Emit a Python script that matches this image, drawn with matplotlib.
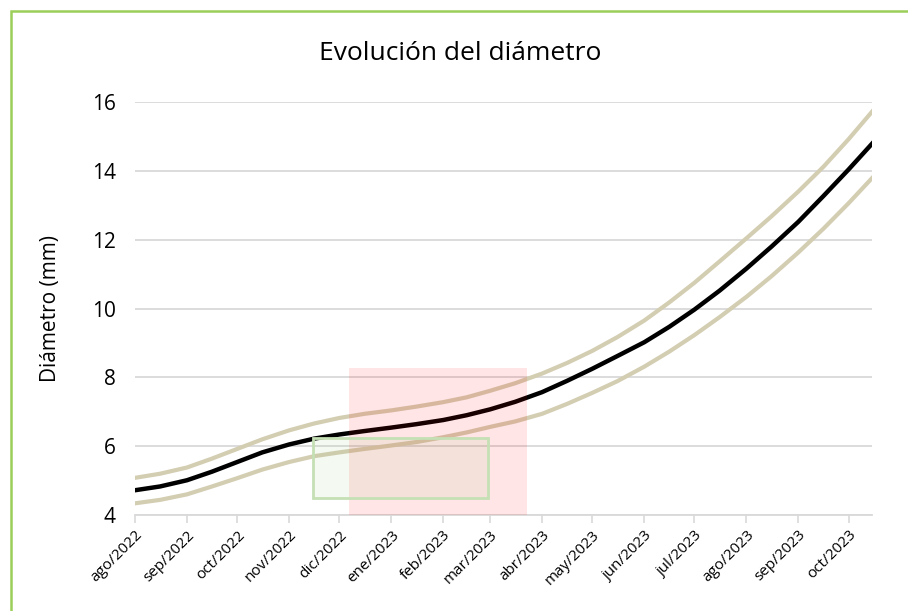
import matplotlib
matplotlib.use("Agg")
import matplotlib.pyplot as plt
import matplotlib.dates as mdates
from matplotlib.patches import Rectangle
import numpy as np
from datetime import date

plt.rcParams['font.family'] = ['Open Sans', 'DejaVu Sans']

# fechas (cada ~15 dias)
fechas = ["2022-08-01", "2022-08-16", "2022-09-01", "2022-09-16", "2022-10-01", "2022-10-16",
          "2022-11-01", "2022-11-16", "2022-12-01", "2022-12-16", "2023-01-01", "2023-01-16",
          "2023-02-01", "2023-02-15", "2023-03-01", "2023-03-16", "2023-04-01", "2023-04-16",
          "2023-05-01", "2023-05-16", "2023-06-01", "2023-06-16", "2023-07-01", "2023-07-16",
          "2023-08-01", "2023-08-16", "2023-09-01", "2023-09-16", "2023-10-01", "2023-10-15"]

# diametro medio (mm)
diametro = [4.72, 4.83, 5.01, 5.26, 5.54, 5.82, 6.05, 6.22, 6.34, 6.44, 6.54, 6.64,
            6.76, 6.90, 7.07, 7.29, 7.57, 7.90, 8.25, 8.62, 9.02, 9.47, 9.97, 10.52,
            11.16, 11.80, 12.52, 13.27, 14.04, 14.79]
# limite superior
diam_sup = [5.08, 5.20, 5.38, 5.64, 5.92, 6.20, 6.46, 6.66, 6.82, 6.94, 7.04, 7.15,
            7.28, 7.42, 7.61, 7.83, 8.11, 8.42, 8.77, 9.17, 9.65, 10.18, 10.75, 11.37,
            12.04, 12.68, 13.40, 14.12, 14.92, 15.72]
# limite inferior
diam_inf = [4.34, 4.44, 4.60, 4.83, 5.07, 5.32, 5.54, 5.71, 5.82, 5.92, 6.02, 6.12,
            6.26, 6.40, 6.56, 6.72, 6.94, 7.23, 7.55, 7.89, 8.31, 8.75, 9.23, 9.75,
            10.34, 10.94, 11.63, 12.32, 13.06, 13.79]

meses = ["ago/2022", "sep/2022", "oct/2022", "nov/2022", "dic/2022", "ene/2023", "feb/2023",
         "mar/2023", "abr/2023", "may/2023", "jun/2023", "jul/2023", "ago/2023", "sep/2023",
         "oct/2023"]

x = np.array(fechas, dtype="datetime64[D]")
ticks = np.arange(np.datetime64("2022-08"), np.datetime64("2023-11"), dtype="datetime64[M]").astype("datetime64[D]")

fig = plt.figure(figsize=(9.08, 6.11), dpi=100)
ax = fig.add_axes([0.1487, 0.1571, 0.9604 - 0.1487, 0.833 - 0.1571])

tan = "#D3CDB2"
ax.plot(x, diam_sup, color=tan, lw=3, zorder=3, solid_joinstyle="round")
ax.plot(x, diam_inf, color=tan, lw=3, zorder=3, solid_joinstyle="round")
ax.plot(x, diametro, color="black", lw=3.2, zorder=4, solid_joinstyle="round")

# recuadros
r1 = mdates.date2num(date(2022, 12, 7))
r2 = mdates.date2num(date(2023, 3, 23))
ax.add_patch(Rectangle((r1, 4), r2 - r1, 8.27 - 4, facecolor="#FF0000", alpha=0.1,
                       edgecolor="none", zorder=5))
g1 = mdates.date2num(date(2022, 11, 15))
g2 = mdates.date2num(date(2023, 2, 28))
ax.add_patch(Rectangle((g1, 4.49), g2 - g1, 6.24 - 4.49, facecolor="#A9D18E", alpha=0.12,
                       edgecolor="none", zorder=6))
ax.add_patch(Rectangle((g1, 4.49), g2 - g1, 6.24 - 4.49, facecolor="none",
                       edgecolor="#C5E0B4", lw=2, zorder=6))

ax.set_xlim(np.datetime64("2022-08-01"), np.datetime64("2023-10-15"))
ax.set_ylim(4, 16)
ax.set_yticks([4, 6, 8, 10, 12, 14, 16])
ax.set_xticks(ticks)
ax.set_xticklabels(meses, rotation=45, ha="right", rotation_mode="anchor", fontsize=11)
ax.tick_params(axis="y", length=0, labelsize=15, pad=14)
ax.tick_params(axis="x", length=6, color="#D9D9D9", width=1.2, pad=3)
ax.grid(axis="y", color="#D9D9D9", lw=1.3)
ax.set_axisbelow(True)
for s in ["top", "right", "left"]:
    ax.spines[s].set_visible(False)
ax.spines["bottom"].set_color("#D9D9D9")
ax.spines["bottom"].set_linewidth(1.3)

ax.set_ylabel("Diámetro (mm)", fontsize=15, labelpad=22)
fig.text(0.507, 0.912, "Evolución del diámetro", ha="center", va="center", fontsize=19)

# borde del grafico
fig.add_artist(Rectangle((11 / 908, -0.1), 1.2, 1 - 11 / 611 + 0.1, transform=fig.transFigure,
                         facecolor="none", edgecolor="#9BCF5A", lw=1.8))

fig.savefig("out.png", dpi=100)
